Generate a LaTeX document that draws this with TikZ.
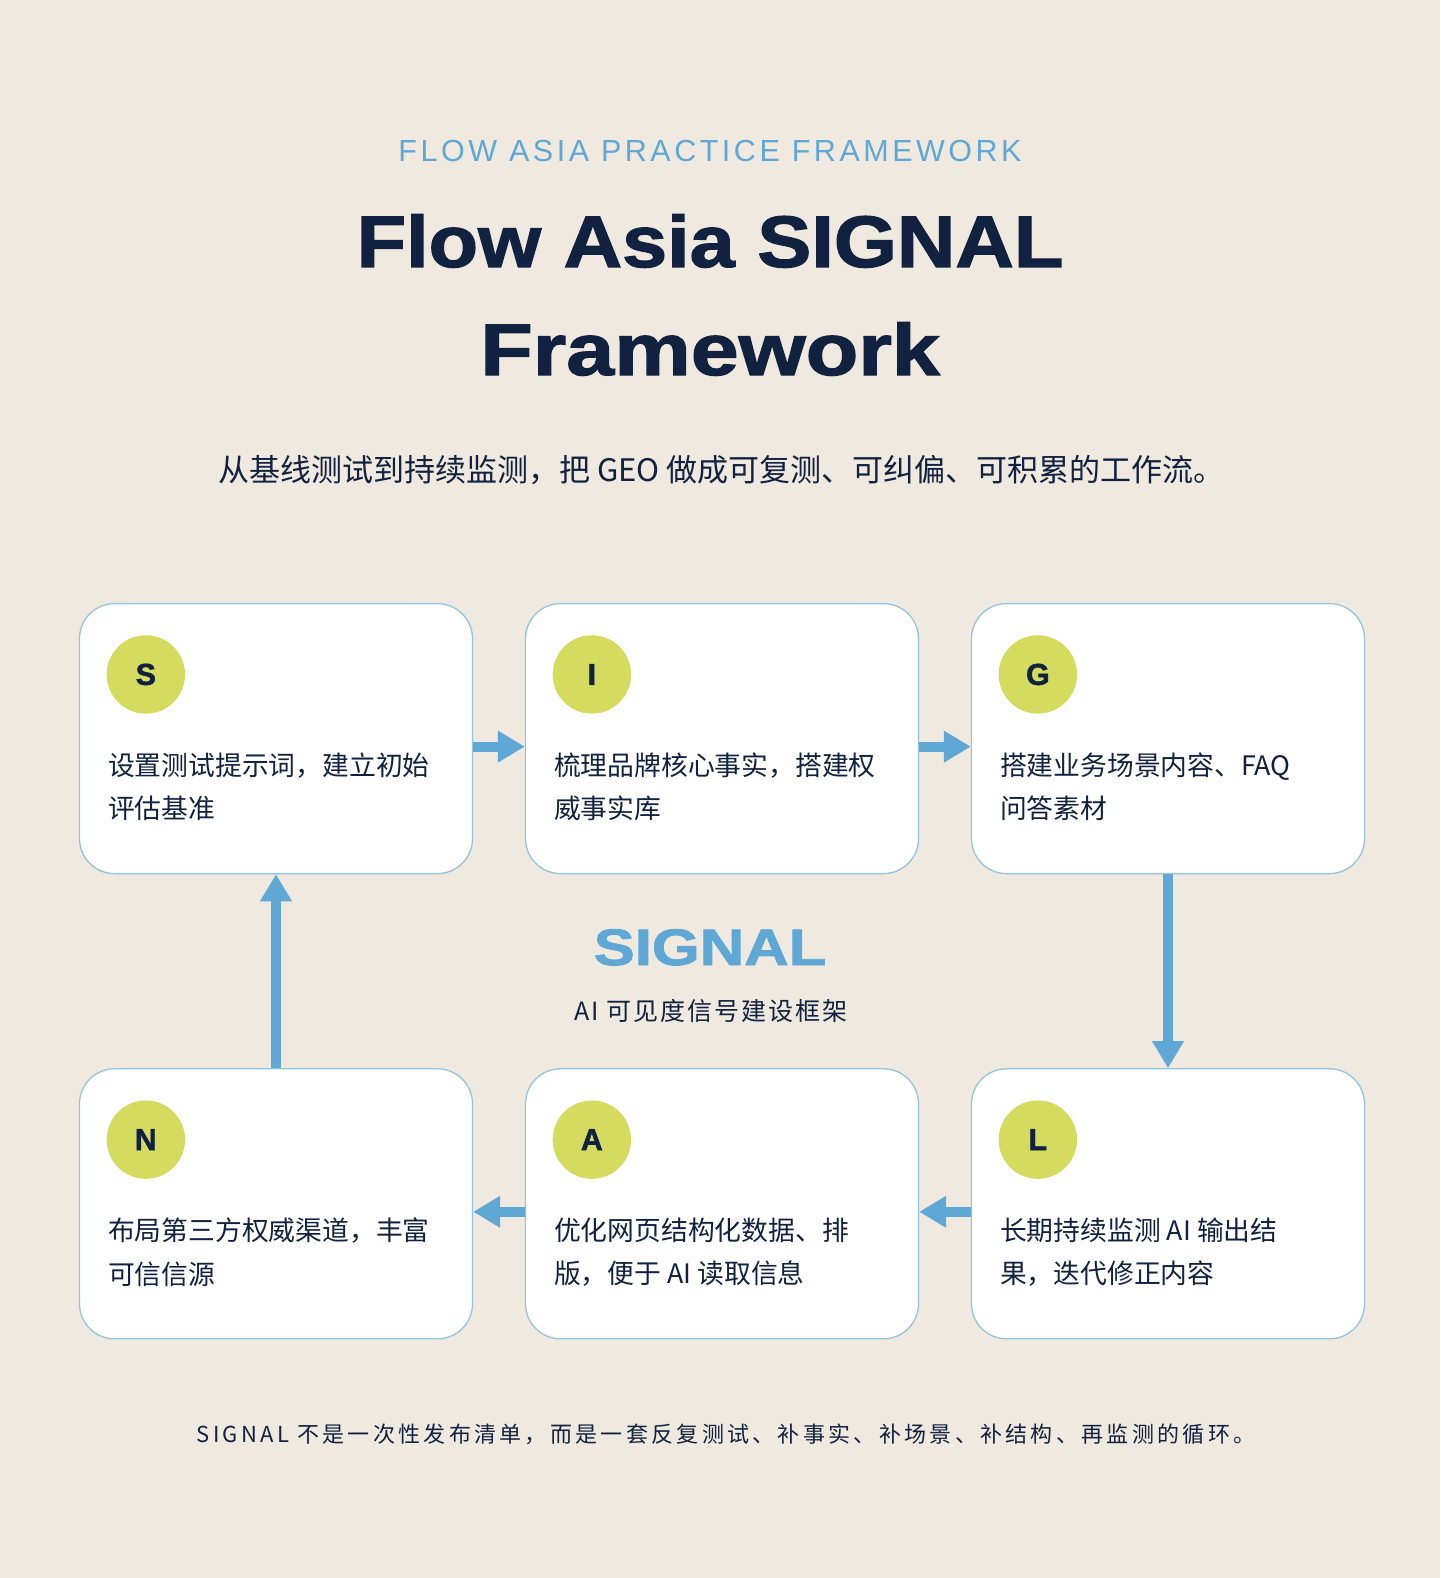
\documentclass[tikz,border=0pt]{standalone}
\usepackage{fontspec}
\setmainfont{Noto Sans CJK SC}
\newfontfamily\latinfont{Liberation Sans}
\newfontfamily\heavyfont{Liberation Sans}[BoldFeatures={FakeBold=1.6}]
\newfontfamily\trackfont[LetterSpace=11.5]{Liberation Sans}
\newfontfamily\cjkspaced[LetterSpace=15]{Noto Sans CJK SC}
\newfontfamily\cjkslight[LetterSpace=8]{Noto Sans CJK SC}
\usetikzlibrary{arrows.meta}
\definecolor{bg}{HTML}{F0E9DF}
\definecolor{navy}{HTML}{10223F}
\definecolor{sky}{HTML}{5FA8D6}
\definecolor{lime}{HTML}{D4DB5E}
\definecolor{edge}{HTML}{93C4E2}
\begin{document}
\begin{tikzpicture}[x=1pt,y=-1pt,
  card/.style={draw=edge, line width=1.3pt, fill=white, rounded corners=35pt, minimum width=393pt, minimum height=270pt, inner sep=0pt},
  badge/.style={circle, fill=lime, minimum size=78.4pt, inner sep=0pt, text=navy, font=\heavyfont\bfseries\fontsize{30.3pt}{30pt}\selectfont},
  cardtext/.style={anchor=west, align=left, inner sep=0pt, text=navy, font=\fontsize{26.8pt}{43.3pt}\selectfont},
  flow/.style={draw=sky, line width=10pt, -{Triangle[length=27pt,width=30pt]}},
]
\fill[bg] (0,0) rectangle (1440,1578);
\useasboundingbox (0,0) rectangle (1440,1578);

% headings
\node[anchor=base, text=sky, inner sep=0pt, font=\trackfont\fontsize{30.5pt}{30pt}\selectfont] (kicker) at (710,162) {FLOW ASIA PRACTICE FRAMEWORK};
\node[anchor=base, text=navy, inner sep=0pt, xscale=1.11, font=\heavyfont\bfseries\fontsize{73pt}{73pt}\selectfont] (title1) at (710,267) {Flow Asia SIGNAL};
\node[anchor=base, text=navy, inner sep=0pt, xscale=1.18, font=\heavyfont\bfseries\fontsize{73pt}{73pt}\selectfont] (title2) at (710,375) {Framework};
\node[text=navy, inner sep=0pt, font=\fontsize{31pt}{31pt}\selectfont] (sub) at (721.5,470) {从基线测试到持续监测，把 GEO 做成可复测、可纠偏、可积累的工作流。};

% cards
\node[card] (S) at (276,738.6) {};
\node[card] (I) at (722,738.6) {};
\node[card] (G) at (1168,738.6) {};
\node[card] (N) at (276,1203.8) {};
\node[card] (A) at (722,1203.8) {};
\node[card] (L) at (1168,1203.8) {};

\node[badge] (Sb) at ([xshift=67pt,yshift=-71.5pt]S.north west) {S};
\node[badge] (Ib) at ([xshift=67pt,yshift=-71.5pt]I.north west) {I};
\node[badge] (Gb) at ([xshift=67pt,yshift=-71.5pt]G.north west) {G};
\node[badge] (Nb) at ([xshift=67pt,yshift=-71.5pt]N.north west) {N};
\node[badge] (Ab) at ([xshift=67pt,yshift=-71.5pt]A.north west) {A};
\node[badge] (Lb) at ([xshift=67pt,yshift=-71.5pt]L.north west) {L};

\node[cardtext] (St) at ([xshift=29pt,yshift=-184pt]S.north west) {设置测试提示词，建立初始\\评估基准};
\node[cardtext] (It) at ([xshift=29pt,yshift=-184pt]I.north west) {梳理品牌核心事实，搭建权\\威事实库};
\node[cardtext] (Gt) at ([xshift=29pt,yshift=-184pt]G.north west) {搭建业务场景内容、FAQ\\问答素材};
\node[cardtext] (Nt) at ([xshift=29pt,yshift=-184pt]N.north west) {布局第三方权威渠道，丰富\\可信信源};
\node[cardtext] (At) at ([xshift=29pt,yshift=-184pt]A.north west) {优化网页结构化数据、排\\版，便于 AI 读取信息};
\node[cardtext] (Lt) at ([xshift=29pt,yshift=-184pt]L.north west) {长期持续监测 AI 输出结\\果，迭代修正内容};

% connectors
\draw[flow] ([yshift=-8pt]S.east) -- ([yshift=-8pt]I.west);
\draw[flow] ([yshift=-8pt]I.east) -- ([yshift=-8pt]G.west);
\draw[flow] (G.south) -- (L.north);
\draw[flow] ([yshift=-8pt]L.west) -- ([yshift=-8pt]A.east);
\draw[flow] ([yshift=-8pt]A.west) -- ([yshift=-8pt]N.east);
\draw[flow] (N.north) -- (S.south);

% centre label
\node[anchor=base, text=sky, inner sep=0pt, xscale=1.2, font=\heavyfont\bfseries\fontsize{51.3pt}{51pt}\selectfont] (mid) at (710,965) {SIGNAL};
\node[text=navy, inner sep=0pt, font=\cjkslight\fontsize{25pt}{25pt}\selectfont] (midsub) at (711,1011) {AI 可见度信号建设框架};

% footer
\node[text=navy, inner sep=0pt, font=\cjkspaced\fontsize{22pt}{22pt}\selectfont] (foot) at (726,1434) {SIGNAL 不是一次性发布清单，而是一套反复测试、补事实、补场景、补结构、再监测的循环。};
\end{tikzpicture}
\end{document}
